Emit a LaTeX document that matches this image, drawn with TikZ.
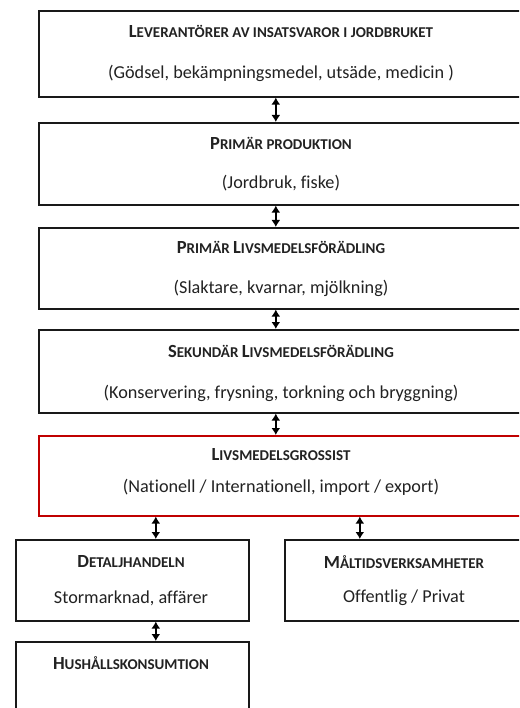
\documentclass[tikz,border=0pt]{standalone}
\usepackage{fontspec}
\setmainfont{Carlito}[Ligatures={NoCommon}]
\usetikzlibrary{arrows.meta}
\newcommand\Hb[1]{{\fontsize{18.5}{20}\selectfont\bfseries #1}}
\newcommand\Hs[1]{{\fontsize{15}{16}\selectfont\bfseries #1}}
\definecolor{txt}{HTML}{222222}
\definecolor{boxred}{HTML}{C00000}
\tikzset{
  box/.style={draw=black!90, line width=1.6pt, rectangle, inner sep=0pt, anchor=north west, text=txt},
  redbox/.style={box, draw=boxred},
  sub/.style={text=txt, font=\fontsize{18.2}{20}\selectfont},
  head/.style={text=txt},
  biarrow/.style={{Latex[length=7pt,width=9pt]}-{Latex[length=7pt,width=9pt]}, line width=1.8pt, black}
}
\begin{document}
\begin{tikzpicture}[x=1pt,y=-1pt]
\clip (0,0) rectangle (519,708);
\fill[white] (0,0) rectangle (519,708);
% boxes
\node[box, minimum width=486pt, minimum height=86pt] (b1) at (38,10) {};
\node[box, minimum width=486pt, minimum height=82pt] (b2) at (38,122) {};
\node[box, minimum width=486pt, minimum height=81pt] (b3) at (38,227) {};
\node[box, minimum width=486pt, minimum height=83pt] (b4) at (38,329) {};
\node[redbox, minimum width=486pt, minimum height=80pt] (b5) at (38,435) {};
\node[box, minimum width=233pt, minimum height=81pt] (b6) at (15,539) {};
\node[box, minimum width=240pt, minimum height=81pt] (b7) at (284,539) {};
\node[box, minimum width=233pt, minimum height=90pt] (b8) at (15,641) {};
% texts
\node[head] (t1) at (281,31) {\Hb{L}\Hs{EVERANTÖRER AV INSATSVAROR I JORDBRUKET}};
\node[sub] (s1) at (281,73) {(Gödsel, bekämpningsmedel, utsäde, medicin )};
\node[head] (t2) at (281,143) {\Hb{P}\Hs{RIMÄR PRODUKTION}};
\node[sub] (s2) at (281,183) {(Jordbruk, fiske)};
\node[head] (t3) at (281,247) {\Hb{P}\Hs{RIMÄR }\Hb{L}\Hs{IVSMEDELSFÖRÄDLING}};
\node[sub] (s3) at (281,288) {(Slaktare, kvarnar, mjölkning)};
\node[head] (t4) at (281,351) {\Hb{S}\Hs{EKUNDÄR }\Hb{L}\Hs{IVSMEDELSFÖRÄDLING}};
\node[sub] (s4) at (281,393) {(Konservering, frysning, torkning och bryggning)};
\node[head] (t5) at (281,455) {\Hb{L}\Hs{IVSMEDELSGROSSIST}};
\node[sub] (s5) at (281,487) {(Nationell / Internationell, import / export)};
\node[head] (t6) at (131,562) {\Hb{D}\Hs{ETALJHANDELN}};
\node[sub] (s6) at (131,598) {Stormarknad, affärer};
\node[head] (t7) at (404,562) {\Hb{M}\Hs{ÅLTIDSVERKSAMHETER}};
\node[sub] (s7) at (404,598) {Offentlig / Privat};
\node[head] (t8) at (131,663) {\Hb{H}\Hs{USHÅLLSKONSUMTION}};
% arrows
\draw[biarrow] ([xshift=-6pt]b1.south) -- ([xshift=-6pt]b2.north);
\draw[biarrow] ([xshift=-6pt]b2.south) -- ([xshift=-6pt]b3.north);
\draw[biarrow] ([xshift=-6pt]b3.south) -- ([xshift=-6pt]b4.north);
\draw[biarrow] ([xshift=-6pt]b4.south) -- ([xshift=-6pt]b5.north);
\draw[biarrow] ([xshift=23.5pt]b6.north |- b5.south) -- ([xshift=23.5pt]b6.north);
\draw[biarrow] ([xshift=-45pt]b7.north |- b5.south) -- ([xshift=-45pt]b7.north);
\draw[biarrow] ([xshift=23.5pt]b6.south) -- ([xshift=23.5pt]b8.north);
\end{tikzpicture}
\end{document}
